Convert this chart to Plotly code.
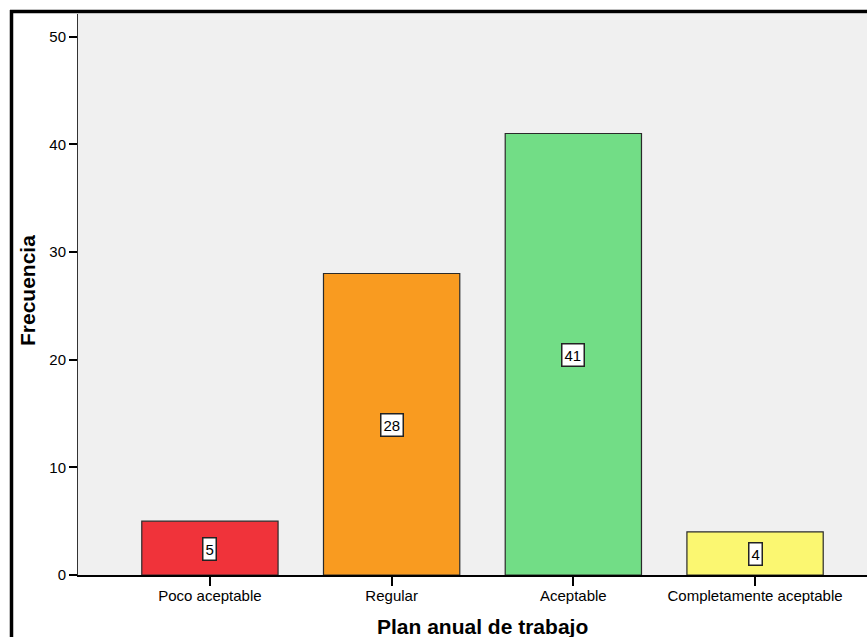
import plotly.graph_objects as go

categories = ["Poco aceptable", "Regular", "Aceptable", "Completamente aceptable"]
frecuencia = [5, 28, 41, 4]
bar_colors = ["#f0333a", "#f99b20", "#72dd86", "#fbf771"]
y_ticks = [0, 10, 20, 30, 40, 50]

W, H = 867, 637
ML, MR, MT, MB = 78, 0, 14, 62
PW, PH = W - ML - MR, H - MT - MB

def px_x(p):
    return (p - ML) / PW

def px_y(p):
    return 1 - (p - MT) / PH

FONT = "Liberation Sans, Arial, sans-serif"

fig = go.Figure()
fig.add_trace(go.Bar(
    x=list(range(len(categories))),
    y=frecuencia,
    marker=dict(color=bar_colors, line=dict(color="#2a2a2a", width=1.2)),
    width=0.75,
    showlegend=False,
    hoverinfo="skip",
))

for i, v in enumerate(frecuencia):
    fig.add_annotation(
        x=i, y=v / 2, xref="x", yref="y", yshift=-1, text=str(v), showarrow=False,
        font=dict(family=FONT, size=15, color="#000"),
        bgcolor="white", bordercolor="#222", borderwidth=1.5, borderpad=2,
    )

fig.update_layout(
    width=W, height=H,
    margin=dict(l=ML, r=MR, t=MT, b=MB),
    paper_bgcolor="white",
    plot_bgcolor="#f0f0f0",
    font=dict(family=FONT, size=15, color="#000"),
    xaxis=dict(
        range=[-0.726, 3.616],
        tickmode="array",
        tickvals=list(range(len(categories))),
        ticktext=categories,
        ticks="outside", ticklen=9, tickwidth=1.5, tickcolor="#000",
        ticklabelstandoff=-3,
        showline=True, linecolor="#000", linewidth=1.5,
        showgrid=False, zeroline=False,
        tickfont=dict(family=FONT, size=15),
    ),
    yaxis=dict(
        range=[0, 52.1],
        tickvals=y_ticks,
        ticks="outside", ticklen=8, tickwidth=1.5, tickcolor="#000",
        showline=True, linecolor="#333", linewidth=1,
        showgrid=False, zeroline=False,
        tickfont=dict(family=FONT, size=15),
    ),
)

# axis titles
fig.add_annotation(
    x=px_x(483), y=px_y(626), xref="paper", yref="paper",
    text="<b>Plan anual de trabajo</b>", showarrow=False,
    font=dict(family=FONT, size=21, color="#000"),
    xanchor="center", yanchor="middle",
)
fig.add_annotation(
    x=px_x(27), y=px_y(291), xref="paper", yref="paper",
    text="<b>Frecuencia</b>", showarrow=False, textangle=-90,
    font=dict(family=FONT, size=21, color="#000"),
    xanchor="center", yanchor="middle",
)

# outer chart frame (cropped SPSS frame)
fig.add_shape(type="line", xref="paper", yref="paper",
              x0=px_x(11.5), x1=px_x(11.5), y0=px_y(10), y1=px_y(640),
              line=dict(color="#000", width=3.5))
fig.add_shape(type="line", xref="paper", yref="paper",
              x0=px_x(10), x1=px_x(870), y0=px_y(11.5), y1=px_y(11.5),
              line=dict(color="#000", width=3.5))

fig.write_html("out.html")
